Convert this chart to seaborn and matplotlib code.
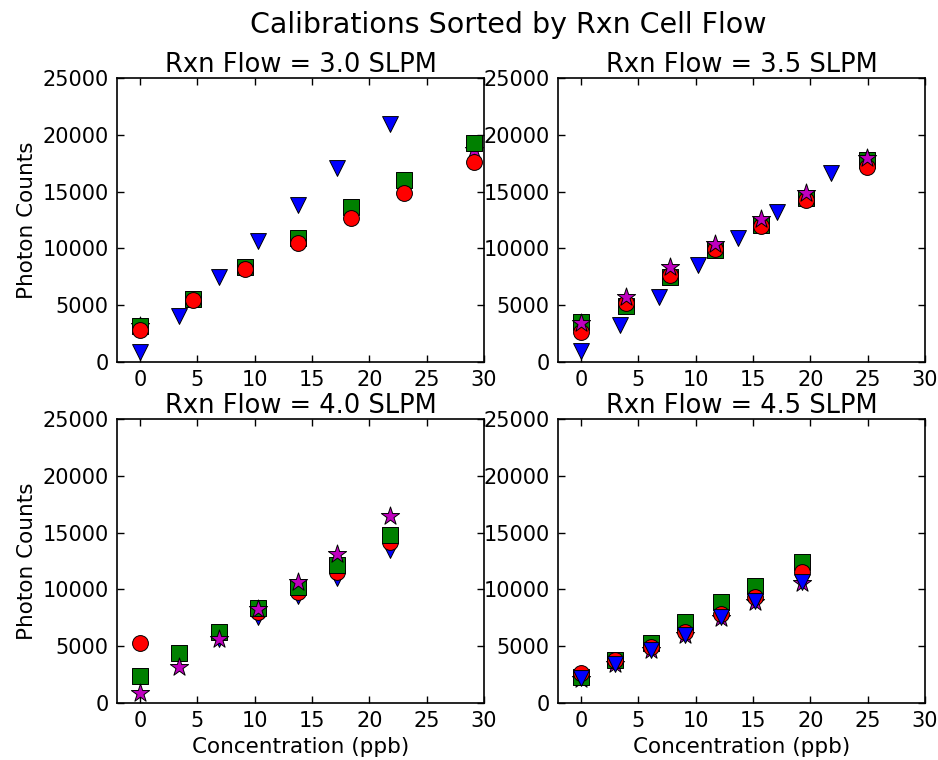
import matplotlib
matplotlib.use("Agg")
import matplotlib.pyplot as plt
import seaborn as sns

# concentrations (ppb) and photon counts per calibration series
flows = ["3.0", "3.5", "4.0", "4.5"]

# Rxn Flow = 3.0 SLPM
c30_blue = [0, 3.4, 6.9, 10.3, 13.8, 17.2, 21.8]
p30_blue = [900, 4080, 7500, 10680, 13820, 17050, 20950]
c30_green = [0, 4.6, 9.2, 13.8, 18.4, 23.0, 29.1]
p30_green = [3200, 5520, 8330, 10880, 13670, 16020, 19240]
c30_red = [0, 4.6, 9.2, 13.8, 18.4, 23.0, 29.1]
p30_red = [2820, 5460, 8150, 10440, 12640, 14900, 17630]
c30_mag = [0, 29.1]
p30_mag = [3150, 18700]

# Rxn Flow = 3.5 SLPM
c35_blue = [0, 3.4, 6.8, 10.2, 13.7, 17.1, 21.8]
p35_blue = [1000, 3260, 5750, 8540, 10940, 13230, 16600]
c35_green = [0, 3.9, 7.8, 11.7, 15.7, 19.6, 24.9]
p35_green = [3490, 4960, 7510, 9860, 12060, 14400, 17780]
c35_red = [0, 3.9, 7.8, 11.7, 15.7, 19.6, 24.9]
p35_red = [2670, 5160, 7660, 9920, 11970, 14260, 17190]
c35_mag = [0, 3.9, 7.8, 11.7, 15.7, 19.6, 24.9]
p35_mag = [3400, 5750, 8330, 10380, 12580, 14900, 17980]

# Rxn Flow = 4.0 SLPM
c40_blue = [6.9, 10.3, 13.8, 17.2, 21.8]
p40_blue = [5660, 7600, 9420, 10970, 13460]
c40_green = [0, 3.4, 6.9, 10.3, 13.8, 17.2, 21.8]
p40_green = [2400, 4370, 6280, 8330, 10240, 12140, 14780]
c40_red = [0, 10.3, 13.8, 17.2, 21.8]
p40_red = [5250, 8040, 9800, 11500, 14200]
c40_mag = [0, 3.4, 6.9, 10.3, 13.8, 17.2, 21.8]
p40_mag = [910, 3200, 5600, 8250, 10680, 13110, 16460]

# Rxn Flow = 4.5 SLPM
c45_blue = [0, 3.0, 6.1, 9.1, 12.2, 15.2, 19.3]
p45_blue = [2170, 3430, 4690, 6010, 7540, 8950, 10680]
c45_green = [0, 3.0, 6.1, 9.1, 12.2, 15.2, 19.3]
p45_green = [2260, 3810, 5280, 7100, 8920, 10330, 12440]
c45_red = [0, 3.0, 6.1, 9.1, 12.2, 15.2, 19.3]
p45_red = [2610, 3780, 4960, 6280, 7830, 9360, 11560]
c45_mag = [0, 3.0, 6.1, 9.1, 12.2, 15.2, 19.3]
p45_mag = [2150, 3400, 4650, 5950, 7500, 8900, 10600]

series = {
    "3.0": [(c30_mag, p30_mag, "m", "*"), (c30_green, p30_green, "g", "s"),
            (c30_red, p30_red, "r", "o"), (c30_blue, p30_blue, "b", "v")],
    "3.5": [(c35_green, p35_green, "g", "s"), (c35_red, p35_red, "r", "o"),
            (c35_mag, p35_mag, "m", "*"), (c35_blue, p35_blue, "b", "v")],
    "4.0": [(c40_blue, p40_blue, "b", "v"), (c40_red, p40_red, "r", "o"),
            (c40_green, p40_green, "g", "s"), (c40_mag, p40_mag, "m", "*")],
    "4.5": [(c45_mag, p45_mag, "m", "*"), (c45_green, p45_green, "g", "s"),
            (c45_red, p45_red, "r", "o"), (c45_blue, p45_blue, "b", "v")],
}

sns.set_style("white")
plt.rcParams.update({
    "font.family": ["DejaVu Sans"],
    "text.color": "black", "axes.labelcolor": "black",
    "xtick.color": "black", "ytick.color": "black",
    "xtick.direction": "in", "ytick.direction": "in",
    "xtick.top": True, "ytick.right": True,
    "xtick.bottom": True, "ytick.left": True,
    "xtick.major.size": 5, "ytick.major.size": 5,
    "xtick.major.width": 1, "ytick.major.width": 1,
    "axes.edgecolor": "black", "axes.linewidth": 1.2,
})

fig = plt.figure(figsize=(9.38, 7.6), dpi=100)
positions = [
    [0.1247, 0.5237, 0.3913, 0.3737],
    [0.5949, 0.5237, 0.3913, 0.3737],
    [0.1247, 0.0750, 0.3913, 0.3737],
    [0.5949, 0.0750, 0.3913, 0.3737],
]

for i, flow in enumerate(flows):
    ax = fig.add_axes(positions[i])
    for z, (xs, ys, col, mk) in enumerate(series[flow]):
        size = 190 if mk == "*" else 130
        sns.scatterplot(x=xs, y=ys, ax=ax, color=col, marker=mk, s=size,
                        edgecolor="black", linewidth=0.7, zorder=3 + z,
                        legend=False)
    ax.set_xlim(-2, 30)
    ax.set_ylim(0, 25000)
    ax.set_xticks([0, 5, 10, 15, 20, 25, 30])
    ax.set_yticks([0, 5000, 10000, 15000, 20000, 25000])
    ax.tick_params(labelsize=15, pad=6)
    ax.set_title("Rxn Flow = " + flow + " SLPM", fontsize=18.5, pad=4)
    if i % 2 == 0:
        ax.set_ylabel("Photon Counts", fontsize=15.5)
    if i >= 2:
        ax.set_xlabel("Concentration (ppb)", fontsize=15.5)

fig.suptitle("Calibrations Sorted by Rxn Cell Flow", fontsize=20.5,
             x=0.542, y=0.986)
fig.savefig("out.png", dpi=100)
